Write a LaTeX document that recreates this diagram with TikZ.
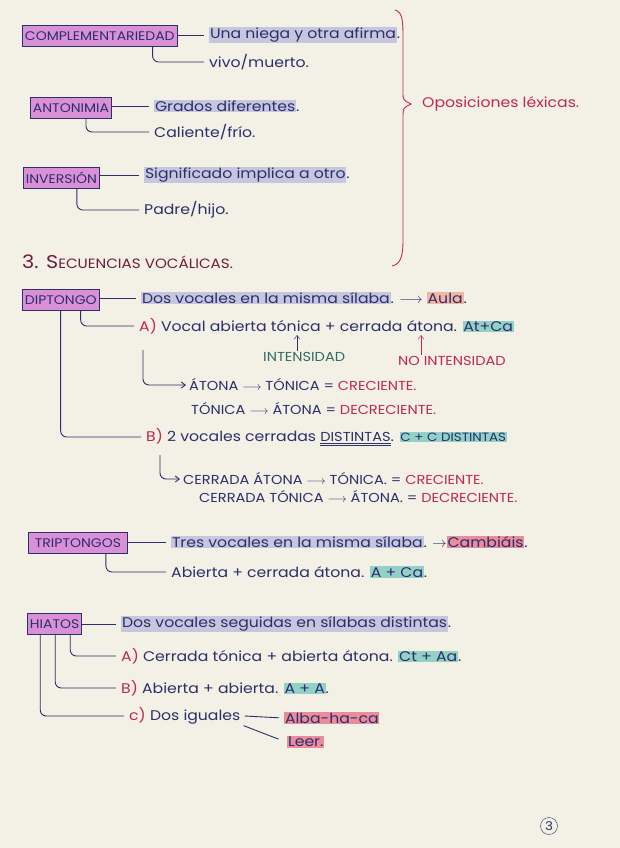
\documentclass[tikz,border=0pt]{standalone}
\usepackage{fontspec}
\setmainfont{Poppins}[FakeStretch=1.12]
\usepackage{xcolor}
\usepackage{tikz}
\usetikzlibrary{positioning,calc,arrows.meta}

\definecolor{papel}{HTML}{F3F0E6}
\definecolor{tinta}{HTML}{2B2F6B}
\definecolor{cajarosa}{HTML}{DA90D6}
\definecolor{lila}{HTML}{C6C6DE}
\definecolor{turquesa}{HTML}{93D1C8}
\definecolor{rosa}{HTML}{EA8C9B}
\definecolor{salmon}{HTML}{F1B6A4}
\definecolor{rojo}{HTML}{C0284F}
\definecolor{verde}{HTML}{2F6E60}
\definecolor{granate}{HTML}{6E1E3C}

\newcommand{\marca}[2]{{\setlength{\fboxsep}{0.8pt}\colorbox{#1}{#2}}}

\begin{document}
\begin{tikzpicture}[x=1pt,y=-1pt, >={Straight Barb[length=4pt,width=6pt]}]
            \tikzset{
                caja/.style={
                    draw=tinta,
                    fill=cajarosa,
                    line width=0.9pt,
                    anchor=west,
                    minimum height=21pt,
                    inner sep=2.5pt,
                    text=tinta,
                    font=\fontsize{12.5}{14}\selectfont
                }
            }
            \tikzset{
                texto/.style={
                    anchor=west,
                    inner sep=1pt,
                    text=tinta,
                    font=\fontsize{14}{16}\selectfont
                }
            }
            \tikzset{
                mayus/.style={
                    anchor=west,
                    inner sep=1pt,
                    text=tinta,
                    font=\fontsize{13}{15}\selectfont
                }
            }
            \tikzset{
                rama/.style={
                    tinta,
                    line width=0.9pt,
                    rounded corners=6pt,
                    shorten >=4pt
                }
            }

            \useasboundingbox (0,0) rectangle (620,848);
            \fill[papel] (0,0) rectangle (620,848);

            % oposiciones lexicas
            \node[caja] (comp) at (22,36) {COMPLEMENTARIEDAD};
            \node[texto] (comp1) at (208,35) {\marca{lila}{Una niega y otra afirma}.};
            \node[texto] (comp2) at (208,62) {vivo/muerto.};
            \draw[rama] (comp1.west -| comp.east) -- (comp1.west);
            \draw[rama] ([xshift=-25pt]comp.south east) |- (comp2.west);

            \node[caja] (anto) at (30,108) {ANTONIMIA};
            \node[texto] (anto1) at (153,106) {\marca{lila}{Grados diferentes}.};
            \node[texto] (anto2) at (153,132) {Caliente/frío.};
            \draw[rama] (anto1.west -| anto.east) -- (anto1.west);
            \draw[rama] ([xshift=-26pt]anto.south east) |- (anto2.west);

            \node[caja] (inve) at (23,178) {INVERSIÓN};
            \node[texto] (inve1) at (143,175) {\marca{lila}{Significado implica a otro}.};
            \node[texto] (inve2) at (143,210) {Padre/hijo.};
            \draw[rama] (inve1.west -| inve.east) -- (inve1.west);
            \draw[rama] ([xshift=-23pt]inve.south east) |- (inve2.west);

            \node[texto, text=rojo] (opos) at (421,104) {Oposiciones léxicas.};
            \coordinate (punta) at (411,104);
            \draw[rojo, line width=0.9pt] (395,10) .. controls (403,12) and (403,22) .. (403,40)
                -- (403,92) .. controls (403,100) .. (punta)
                .. controls (403,108) .. (403,118) -- (403,240)
                .. controls (403,258) and (400,264) .. (392,266);

            % secuencias vocalicas
            \node[anchor=west, text=granate, inner sep=0pt] (titu) at (22,262)
                {\fontsize{18.5}{20}\selectfont 3. S\fontsize{13.5}{15}\selectfont ECUENCIAS VOCÁLICAS.};

            \node[caja] (dipt) at (22,300) {DIPTONGO};
            \node[texto] (dipt1) at (140,298) {\marca{lila}{Dos vocales en la misma sílaba}. $\longrightarrow$ \marca{salmon}{Aula}.};
            \draw[rama] (dipt1.west -| dipt.east) -- (dipt1.west);
            \node[texto] (diptA) at (138,326) {\textcolor{rojo}{A)} Vocal abierta tónica + cerrada átona. \marca{turquesa}{At+Ca}};
            \draw[rama] ([xshift=-19pt]dipt.south east) |- (diptA.west);

            \node[mayus, text=verde] (inte) at (262,357) {INTENSIDAD};
            \node[mayus, text=rojo] (nint) at (397,361) {NO INTENSIDAD};
            \coordinate (tonica) at (297,335);
            \coordinate (atona) at (421,335);
            \draw[tinta, ->] (inte.north -| tonica) -- (tonica);
            \draw[rojo, ->] (nint.north -| atona) -- (atona);

            \coordinate (giroA) at (143,350);
            \node[mayus] (crec) at (188,385) {ÁTONA $\longrightarrow$ TÓNICA = \textcolor{rojo}{CRECIENTE.}};
            \node[mayus] (decr) at (190,409) {TÓNICA $\longrightarrow$ ÁTONA = \textcolor{rojo}{DECRECIENTE.}};
            \draw[rama, ->, shorten >=2pt] (giroA) |- (crec.west);

            \node[texto] (diptB) at (145,437) {\textcolor{rojo}{B)} 2 vocales cerradas {\fontsize{13}{15}\selectfont\underline{\underline{DISTINTAS}}}. \marca{turquesa}{\fontsize{12}{14}\selectfont C + C DISTINTAS}};
            \draw[rama] ([xshift=-39pt]dipt.south east) |- (diptB.west);

            \coordinate (giroB) at (160,455);
            \node[mayus] (crec2) at (182,479) {CERRADA ÁTONA $\longrightarrow$ TÓNICA. = \textcolor{rojo}{CRECIENTE.}};
            \node[mayus] (decr2) at (198,497) {CERRADA TÓNICA $\longrightarrow$ ÁTONA. = \textcolor{rojo}{DECRECIENTE.}};
            \draw[rama, ->, shorten >=2pt] (giroB) |- (crec2.west);

            % triptongos
            \node[caja, minimum width=99pt] (trip) at (28,543) {TRIPTONGOS};
            \node[texto] (trip1) at (170,542) {\marca{lila}{Tres vocales en la misma sílaba}. $\rightarrow$\marca{rosa}{Cambiáis}.};
            \node[texto] (trip2) at (170,572) {Abierta + cerrada átona. \marca{turquesa}{A + Ca}.};
            \draw[rama] (trip1.west -| trip.east) -- (trip1.west);
            \draw[rama] ([xshift=-22pt]trip.south east) |- (trip2.west);

            % hiatos
            \node[caja] (hiat) at (27,624) {HIATOS};
            \node[texto] (hiat1) at (120,624) {\marca{lila}{Dos vocales seguidas en sílabas distintas}.};
            \node[texto] (hiatA) at (120,656) {\textcolor{rojo}{A)} Cerrada tónica + abierta átona. \marca{turquesa}{Ct + Aa}.};
            \node[texto] (hiatB) at (120,688) {\textcolor{rojo}{B)} Abierta + abierta. \marca{turquesa}{A + A}.};
            \node[texto] (hiatC) at (128,716) {\textcolor{rojo}{c)} Dos iguales};
            \node[texto] (alba) at (283,718) {\marca{rosa}{Alba-ha-ca}};
            \node[texto] (leer) at (286,742) {\marca{rosa}{Leer.}};
            \draw[rama] (hiat1.west -| hiat.east) -- (hiat1.west);
            \draw[rama] ([xshift=-12pt]hiat.south east) |- (hiatA.west);
            \draw[rama] ([xshift=-27pt]hiat.south east) |- (hiatB.west);
            \draw[rama] ([xshift=-42pt]hiat.south east) |- (hiatC.west);
            \draw[rama] ([xshift=3pt]hiatC.east) -- (alba.west);
            \draw[rama, shorten >=8pt] ([xshift=2pt]hiatC.south east) -- (leer.west);

            \node[draw=tinta, circle, minimum size=17pt, inner sep=0pt, text=tinta, font=\fontsize{12}{14}\selectfont] (pagina) at (549,826) {3};
        \end{tikzpicture}
\end{document}
